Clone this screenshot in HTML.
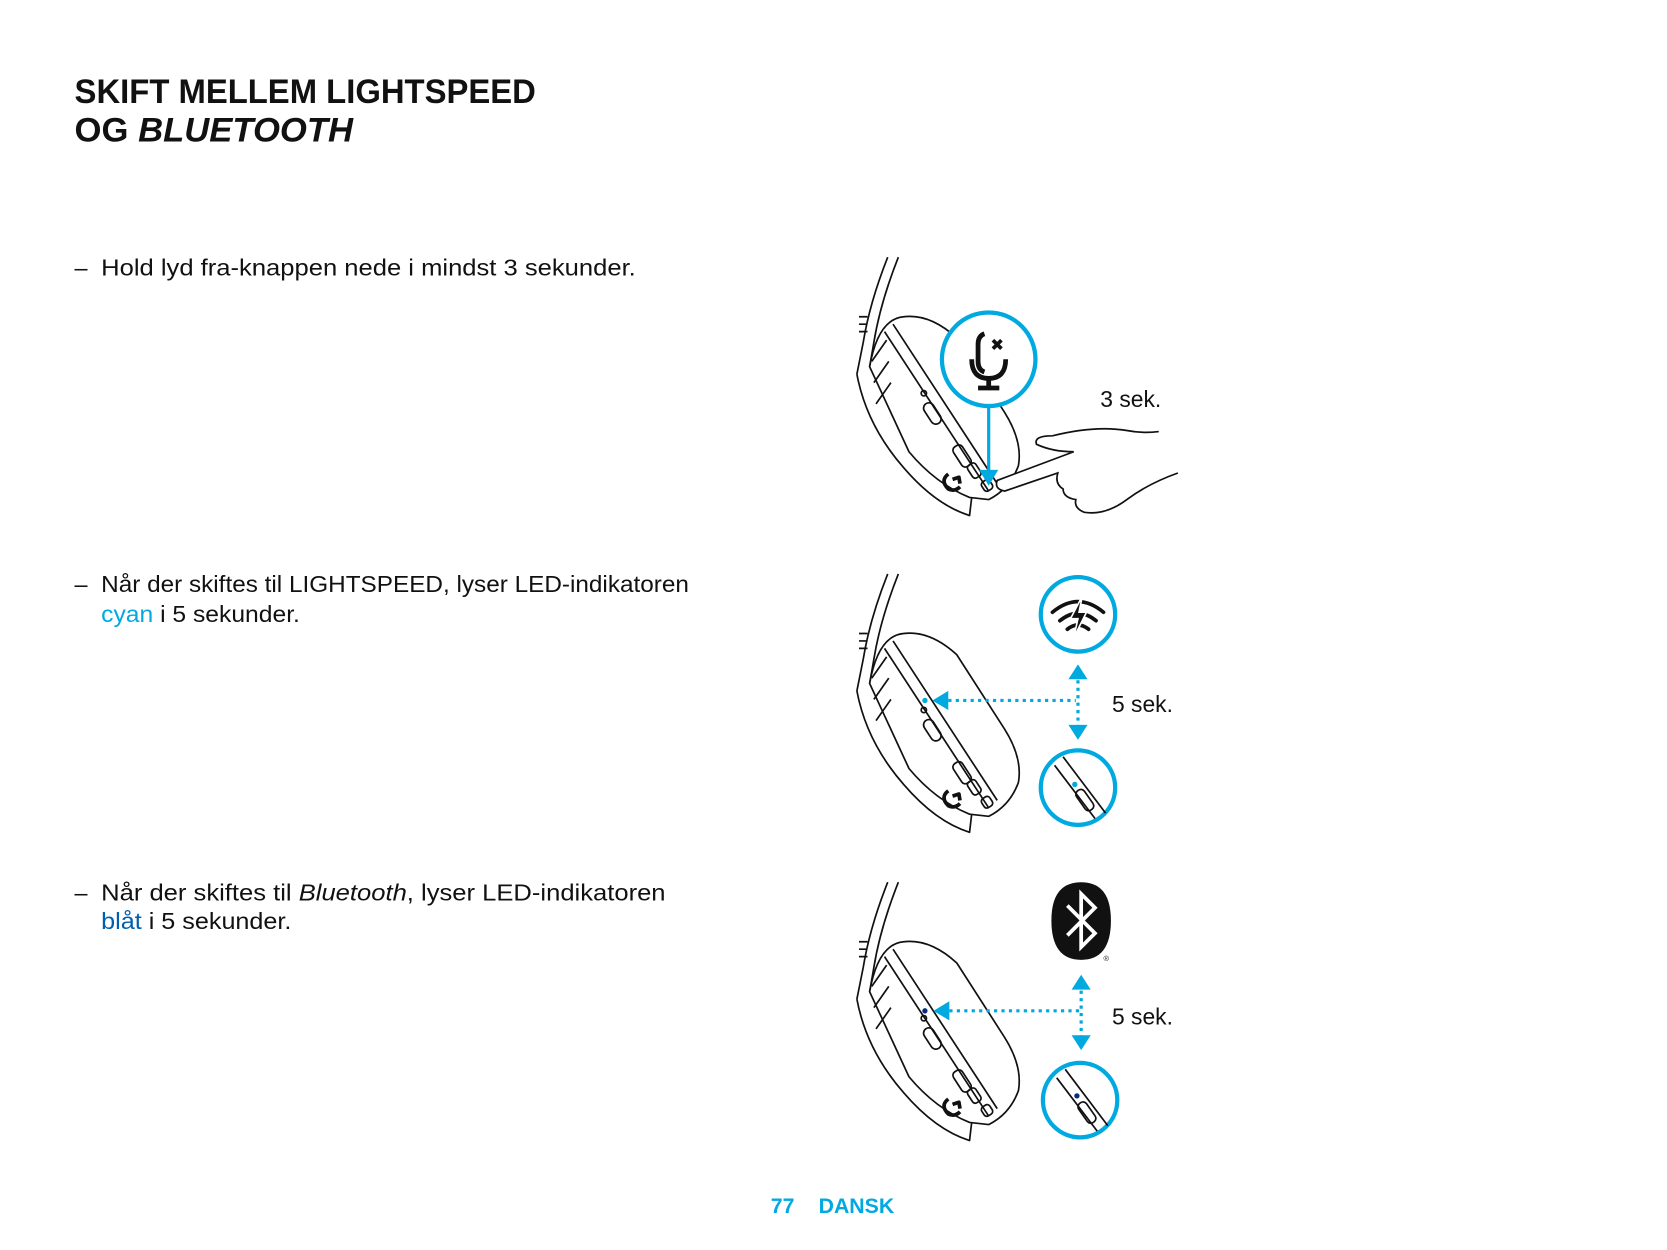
<!DOCTYPE html>
<html><head><meta charset="utf-8"><style>
html,body{margin:0;padding:0;background:#fff;}
svg{display:block;}
text{font-family:"Liberation Sans",sans-serif;}
</style></head><body>
<svg width="1667" height="1250" viewBox="0 0 1568 1176" xmlns="http://www.w3.org/2000/svg">
<defs>
<g id="hs" fill="none" stroke="#111" stroke-width="1.6" stroke-linejoin="round">
  <path d="M835,242 Q818,285 812,322 L806,352"/>
  <path d="M845,242 Q828,285 822,322 L818,345"/>
  <path d="M808,298 l8,0 M808,305 l8,0 M808,312 l8,0"/>
  <path d="M806,352 Q815,400 850,440 Q880,475 912,485 L914,468"/>
  <path d="M818,345 Q826,300 850,298 Q875,295 900,318 L945,388 Q962,415 958,438 Q950,460 930,470 L912,468 Q880,455 855,425 Z" fill="#fff"/>
  <path d="M832,312 L930,462"/>
  <path d="M840,305 L938,455"/>
  <path d="M820,340 L834,320 M822,360 L836,340 M824,380 L838,360"/>
  <rect x="872" y="378" width="10" height="22" rx="5" transform="rotate(-33 877 389)"/>
  <circle cx="869" cy="370" r="2.5"/>
  <rect x="900" y="418" width="10" height="22" rx="4" transform="rotate(-33 905 429)"/>
  <rect x="912" y="436" width="9" height="14" rx="3" transform="rotate(-33 916 443)"/>
  <rect x="924" y="452" width="9" height="10" rx="3" transform="rotate(-33 928 457)"/>
  <path d="M892,446 Q884,452 892,460 Q898,463 903,458 M896,451 l6,-2 l1,6" stroke-width="3.5"/>
</g>
</defs>

<text x="70" y="97" font-size="32" font-weight="bold" fill="#111" textLength="434" lengthAdjust="spacingAndGlyphs">SKIFT MELLEM LIGHTSPEED</text>
<text x="70" y="133" font-size="32" font-weight="bold" fill="#111" textLength="262" lengthAdjust="spacingAndGlyphs">OG <tspan font-style="italic">BLUETOOTH</tspan></text>

<g font-size="22" fill="#111">
<text x="70" y="259">–</text><text x="95" y="259" textLength="503" lengthAdjust="spacingAndGlyphs">Hold lyd fra-knappen nede i mindst 3 sekunder.</text>
<text x="70" y="557">–</text><text x="95" y="557" textLength="553" lengthAdjust="spacingAndGlyphs">Når der skiftes til LIGHTSPEED, lyser LED-indikatoren</text>
<text x="95" y="585" textLength="187" lengthAdjust="spacingAndGlyphs"><tspan fill="#00a9e0">cyan</tspan> i 5 sekunder.</text>
<text x="70" y="847">–</text><text x="95" y="847" textLength="531" lengthAdjust="spacingAndGlyphs">Når der skiftes til <tspan font-style="italic">Bluetooth</tspan>, lyser LED-indikatoren</text>
<text x="95" y="874" textLength="179" lengthAdjust="spacingAndGlyphs"><tspan fill="#0060b0">blåt</tspan> i 5 sekunder.</text>
</g>

<!-- panel 1 -->
<use href="#hs"/>
<path d="M990,410 Q1030,400 1060,405 Q1075,408 1090,406 M1108,445 Q1080,455 1060,470 Q1040,485 1020,482 Q1010,478 1012,470 Q1000,468 1000,460 Q992,455 995,445 L945,462 Q935,460 938,452 L1010,425 Q990,425 975,418 Q972,410 990,410" fill="#fff" stroke="#111" stroke-width="1.6"/>
<circle cx="930" cy="338" r="44" fill="#fff" stroke="#00a9e0" stroke-width="4"/>
<g fill="none" stroke="#111" stroke-width="4.5">
  <path d="M926,314 Q920,316 920,324 L920,340 Q920,348 926,350"/>
  <path d="M914,338 Q914,356 930,356 Q946,356 946,338"/>
  <path d="M930,356 L930,364 M920,365 L940,365"/>
  <path d="M934,320 l8,8 M942,320 l-8,8" stroke-width="3.5"/>
</g>
<line x1="930" y1="382" x2="930" y2="444" stroke="#00a9e0" stroke-width="3"/>
<path d="M921,442 L939,442 L930,457 Z" fill="#00a9e0"/>
<text x="1035" y="383" font-size="21.5" fill="#111">3 sek.</text>

<!-- panel 2 -->
<use href="#hs" transform="translate(0,298)"/>
<circle cx="1014" cy="578" r="35" fill="#fff" stroke="#00a9e0" stroke-width="4"/>
<g fill="none" stroke="#111" stroke-width="3.5" stroke-linecap="round">
  <path d="M990,576 Q1014,556 1038,576"/><path d="M997,584 Q1014,570 1031,584"/><path d="M1004,592 Q1014,584 1024,592"/>
</g>
<path d="M1018,561 L1007,582 L1014,582 L1010,600 L1022,576 L1015,576 Z" fill="#111" stroke="#fff" stroke-width="1.5"/>
<circle cx="1014" cy="741" r="35" fill="#fff" stroke="#00a9e0" stroke-width="4"/>
<path d="M992,720 L1030,770 M1000,712 L1040,765" stroke="#111" stroke-width="1.6" fill="none"/>
<rect x="1016" y="742" width="9" height="22" rx="4" transform="rotate(-35 1020 753)" fill="none" stroke="#111" stroke-width="1.6"/>
<circle cx="1011" cy="738" r="2.5" fill="#00a9e0"/>
<line x1="1014" y1="640" x2="1014" y2="683" stroke="#00a9e0" stroke-width="3" stroke-dasharray="3,4"/>
<path d="M1005,639 L1023,639 L1014,625 Z M1005,682 L1023,682 L1014,696 Z" fill="#00a9e0"/>
<line x1="892" y1="659" x2="1012" y2="659" stroke="#00a9e0" stroke-width="3" stroke-dasharray="3,4"/>
<path d="M892,650 L892,668 L877,659 Z" fill="#00a9e0"/>
<circle cx="870" cy="659" r="2.5" fill="#00a9e0"/>
<text x="1046" y="670" font-size="21.5" fill="#111">5 sek.</text>

<!-- panel 3 -->
<use href="#hs" transform="translate(0,588)"/>
<path d="M1017,830 Q1045,830 1045,866 Q1045,903 1017,903 Q989,903 989,866 Q989,830 1017,830 Z" fill="#111"/>
<path d="M1004,852 L1030,878 L1017,891 L1017,841 L1030,854 L1004,880" fill="none" stroke="#fff" stroke-width="3.5"/>
<text x="1038" y="904" font-size="7" fill="#111">®</text>
<circle cx="1016" cy="1035" r="35" fill="#fff" stroke="#00a9e0" stroke-width="4"/>
<path d="M994,1014 L1032,1064 M1002,1006 L1042,1059" stroke="#111" stroke-width="1.6" fill="none"/>
<rect x="1018" y="1036" width="9" height="22" rx="4" transform="rotate(-35 1022 1047)" fill="none" stroke="#111" stroke-width="1.6"/>
<circle cx="1013" cy="1031" r="2.5" fill="#0a2a80"/>
<line x1="1017" y1="932" x2="1017" y2="975" stroke="#00a9e0" stroke-width="3" stroke-dasharray="3,4"/>
<path d="M1008,931 L1026,931 L1017,917 Z M1008,974 L1026,974 L1017,988 Z" fill="#00a9e0"/>
<line x1="893" y1="951" x2="1015" y2="951" stroke="#00a9e0" stroke-width="3" stroke-dasharray="3,4"/>
<path d="M893,942 L893,960 L878,951 Z" fill="#00a9e0"/>
<circle cx="870" cy="951" r="2.5" fill="#0a2a80"/>
<text x="1046" y="964" font-size="21.5" fill="#111">5 sek.</text>

<text x="725" y="1141" font-size="20" font-weight="bold" fill="#00a9e0">77</text>
<text x="770" y="1141" font-size="20" font-weight="bold" fill="#00a9e0">DANSK</text>
</svg>
</body></html>
